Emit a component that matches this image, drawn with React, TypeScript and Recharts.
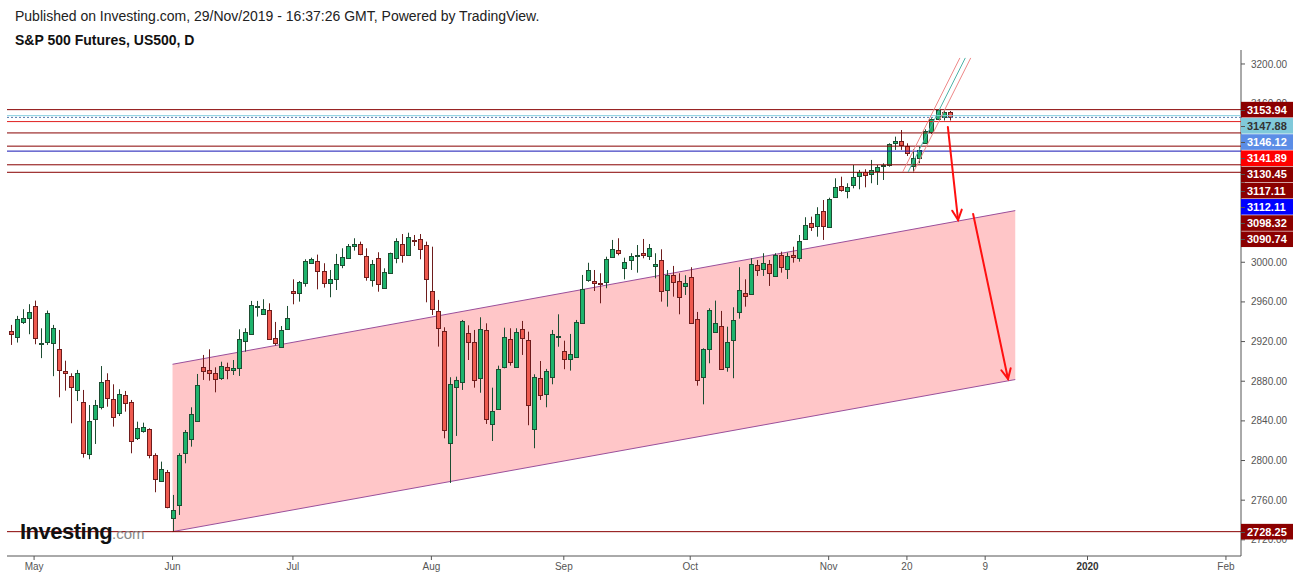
import React from 'react';
import { ComposedChart, Bar, Area, XAxis, YAxis, ReferenceLine } from 'recharts';

// daily bars, weekdays from 25 Apr 2019, axis runs out to early Feb 2020
const FIRST_DAY = '2019-04-25';
const BAR_COUNT = 205;

const OPEN = [
  2930.4, 2924.4, 2939.5, 2943.5, 2955.9, 2918.0, 2919.3, 2918.4, 2912.2, 2890.7,
  2885.3, 2871.2, 2859.1, 2806.3, 2841.6, 2853.7, 2881.3, 2861.8, 2848.3, 2865.8,
  2858.7, 2822.4, 2830.1, 2831.5, 2805.6, 2779.7, 2788.8, 2741.7, 2755.2, 2807.3,
  2821.4, 2840.2, 2894.0, 2891.4, 2888.0, 2883.0, 2894.0, 2891.4, 2893.7, 2920.9,
  2927.4, 2955.2, 2948.1, 2951.9, 2923.3, 2914.9, 2933.0, 2971.0, 2968.7, 2979.4,
  2999.6, 3001.0, 2990.9, 2978.8, 2982.8, 2997.0, 3004.3, 3016.1, 3018.4, 3006.3,
  2982.1, 3004.0, 2974.4, 2988.9, 3004.0, 3018.4, 3007.1, 3022.9, 3023.2, 3017.4,
  2971.0, 2950.5, 2930.4, 2817.4, 2874.5, 2879.6, 2928.4, 2919.6, 2883.0, 2931.7,
  2836.6, 2851.7, 2894.0, 2922.6, 2894.0, 2932.4, 2921.3, 2831.5, 2883.0, 2866.8,
  2884.0, 2925.0, 2910.5, 2902.1, 2904.1, 2938.4, 2981.7, 2980.8, 2979.3, 2980.1,
  3005.6, 3012.7, 2993.9, 3002.0, 3007.1, 3009.1, 3006.3, 2996.0, 3002.0, 2971.7,
  2986.9, 2981.1, 2976.4, 2984.8, 2942.8, 2884.0, 2912.2, 2930.0, 2935.4, 2894.0,
  2921.3, 2949.5, 2968.7, 2967.7, 2997.0, 2993.0, 2998.3, 2985.8, 3007.4, 2993.0,
  3007.4, 3004.0, 3023.2, 3039.3, 3036.6, 3052.0, 3035.9, 3065.5, 3077.2, 3071.6,
  3078.0, 3087.0, 3091.4, 3088.7, 3092.1, 3097.3, 3097.8, 3120.0, 3122.3, 3117.3,
  3097.1, 3105.0, 3120.0, 3131.4, 3144.2, 3146.3, 3151.3,
];
const HIGH = [
  2936.8, 2945.9, 2952.6, 2957.7, 2961.3, 2933.4, 2951.3, 2936.8, 2931.7, 2900.7,
  2888.0, 2891.4, 2871.2, 2856.0, 2861.1, 2895.3, 2888.0, 2876.9, 2871.9, 2870.2,
  2861.1, 2839.2, 2838.2, 2832.5, 2807.3, 2798.9, 2790.5, 2765.3, 2807.3, 2830.8,
  2853.7, 2887.3, 2906.5, 2912.2, 2894.0, 2899.7, 2898.7, 2901.4, 2932.4, 2933.4,
  2961.0, 2961.0, 2962.7, 2958.6, 2939.8, 2935.7, 2955.9, 2982.8, 2981.1, 3003.0,
  3004.6, 3007.7, 2999.0, 2992.2, 3008.4, 3014.1, 3018.4, 3024.2, 3020.8, 3014.1,
  3002.3, 3010.1, 2993.9, 3009.7, 3024.2, 3028.5, 3029.8, 3027.5, 3028.5, 3020.8,
  3015.7, 2962.0, 2934.4, 2884.0, 2884.6, 2941.8, 2936.4, 2931.7, 2944.5, 2938.4,
  2873.5, 2895.7, 2934.0, 2933.4, 2933.4, 2940.8, 2930.0, 2887.0, 2900.4, 2892.4,
  2931.7, 2947.5, 2920.9, 2927.7, 2941.8, 2987.2, 2999.5, 2992.2, 2988.9, 3005.6,
  3022.5, 3024.2, 3004.6, 3009.1, 3017.4, 3023.5, 3018.4, 3009.1, 3013.1, 2992.2,
  2996.3, 2988.9, 2986.9, 2995.0, 2949.9, 2913.2, 2953.6, 2961.3, 2950.9, 2935.0,
  2954.6, 2995.0, 2982.8, 3004.0, 3002.3, 3009.1, 3002.3, 3009.1, 3010.7, 3009.7,
  3015.7, 3027.5, 3045.4, 3046.0, 3055.5, 3062.8, 3065.1, 3084.7, 3086.3, 3079.7,
  3098.1, 3093.1, 3093.8, 3103.2, 3098.1, 3099.8, 3120.0, 3126.7, 3133.4, 3120.0,
  3114.0, 3116.6, 3134.1, 3145.2, 3154.0, 3153.6, 3152.6,
];
const LOW = [
  2916.6, 2919.0, 2937.8, 2927.4, 2917.3, 2903.3, 2916.6, 2885.1, 2863.8, 2870.5,
  2837.6, 2860.0, 2802.9, 2801.3, 2816.7, 2851.6, 2854.3, 2834.2, 2844.9, 2849.3,
  2807.3, 2820.7, 2828.1, 2802.2, 2768.0, 2778.4, 2751.8, 2728.3, 2745.1, 2797.2,
  2814.0, 2839.9, 2881.3, 2880.6, 2868.8, 2881.3, 2882.0, 2886.3, 2885.3, 2909.8,
  2927.4, 2945.2, 2948.1, 2921.6, 2916.0, 2914.9, 2931.7, 2957.6, 2960.3, 2975.4,
  2999.0, 2972.7, 2974.4, 2964.7, 2972.0, 2994.0, 3004.3, 3011.7, 3007.1, 2981.4,
  2975.4, 2970.3, 2973.8, 2988.9, 2999.0, 2999.6, 3007.1, 3016.4, 3003.0, 2959.6,
  2946.8, 2914.9, 2822.4, 2777.4, 2824.8, 2871.2, 2901.4, 2873.5, 2868.4, 2836.9,
  2819.7, 2851.7, 2893.0, 2895.7, 2894.0, 2906.5, 2835.6, 2812.4, 2861.1, 2853.7,
  2876.9, 2914.8, 2892.1, 2890.7, 2904.1, 2938.4, 2980.3, 2971.0, 2958.6, 2973.8,
  3005.0, 3007.0, 2982.8, 2992.2, 2989.5, 3004.0, 3002.3, 2983.8, 2960.3, 2955.2,
  2965.3, 2947.5, 2967.0, 2938.4, 2875.5, 2856.7, 2898.1, 2929.0, 2891.4, 2889.6,
  2883.0, 2943.1, 2955.2, 2967.7, 2986.2, 2986.2, 2976.1, 2985.5, 2989.5, 2983.1,
  2999.6, 3000.6, 3022.5, 3031.6, 3025.8, 3022.5, 3034.9, 3065.5, 3071.2, 3064.5,
  3074.6, 3073.6, 3075.6, 3079.7, 3078.0, 3083.0, 3096.4, 3113.3, 3113.3, 3107.2,
  3090.7, 3099.9, 3119.3, 3129.4, 3143.5, 3143.0, 3143.0,
];
const CLOSE = [
  2927.4, 2942.5, 2943.5, 2949.6, 2923.4, 2918.4, 2948.6, 2933.4, 2891.4, 2888.0,
  2873.9, 2888.0, 2807.3, 2839.9, 2855.7, 2878.9, 2862.8, 2844.2, 2866.8, 2857.7,
  2820.0, 2832.5, 2833.5, 2805.6, 2781.1, 2791.2, 2752.8, 2750.1, 2805.6, 2828.5,
  2846.6, 2875.9, 2890.0, 2888.0, 2882.0, 2895.3, 2891.4, 2893.4, 2922.3, 2929.4,
  2956.6, 2955.4, 2952.9, 2922.3, 2918.4, 2931.7, 2944.1, 2968.7, 2980.1, 3001.0,
  3003.0, 2990.9, 2978.8, 2982.8, 2998.3, 3005.0, 3016.4, 3018.4, 3008.1, 2985.5,
  2998.0, 2977.8, 2989.9, 3009.1, 3021.8, 3007.1, 3025.2, 3022.5, 3013.1, 2982.8,
  2952.6, 2933.4, 2830.8, 2876.9, 2881.0, 2940.8, 2919.9, 2881.0, 2932.4, 2841.6,
  2849.7, 2892.1, 2924.3, 2899.1, 2930.0, 2923.3, 2855.7, 2884.0, 2865.8, 2890.4,
  2927.4, 2925.2, 2902.8, 2907.1, 2939.8, 2972.7, 2991.8, 2978.8, 2978.5, 3003.0,
  3013.7, 3009.0, 2999.9, 3006.3, 3007.4, 3007.1, 3014.1, 2998.3, 2971.0, 2986.9,
  2980.4, 2964.7, 2978.8, 2938.4, 2881.0, 2912.5, 2951.9, 2938.4, 2892.7, 2919.6,
  2941.8, 2971.7, 2965.7, 2998.3, 2992.0, 2999.0, 2988.9, 3007.4, 2995.0, 3006.3,
  3005.0, 3021.5, 3037.1, 3035.9, 3048.4, 3036.6, 3063.5, 3076.2, 3072.9, 3075.6,
  3086.3, 3090.8, 3088.0, 3093.1, 3095.8, 3097.6, 3119.3, 3122.3, 3118.3, 3109.9,
  3104.9, 3113.3, 3132.7, 3144.2, 3153.5, 3151.3, 3146.1,
];

const X_TICK_DATES = ['2019-05-01', '2019-06-03', '2019-07-01', '2019-08-01', '2019-09-02', '2019-10-01', '2019-11-01', '2019-11-20', '2019-12-09', '2020-01-01', '2020-02-03'];
const X_TICK_LABELS = ['May', 'Jun', 'Jul', 'Aug', 'Sep', 'Oct', 'Nov', '20', '9', '2020', 'Feb'];
const Y_TICKS = [2720, 2760, 2800, 2840, 2880, 2920, 2960, 3000, 3040, 3080, 3120, 3160, 3200];
// these tick labels sit fully under the price tags
const Y_TICKS_COVERED = [3040, 3080, 3120];
const Y_MIN = 2703.7;
const Y_MAX = 3214.1;

// horizontal levels, top to bottom
const LEVELS = [3153.94, 3147.88, 3146.12, 3141.89, 3130.45, 3117.11, 3112.11, 3098.32, 3090.74, 2728.25];
const LEVEL_LINE = ['#880000', '#86cfe0', '#5577aa', '#e02020', '#880000', '#880000', '#1414b4', '#880000', '#880000', '#880000'];
const LEVEL_TAG = ['#8b0000', '#80c9da', '#5b8de6', '#ff0000', '#8b0000', '#8b0000', '#0000ff', '#8b0000', '#8b0000', '#8b0000'];
const LEVEL_TEXT = ['#fff', '#333', '#fff', '#fff', '#fff', '#fff', '#fff', '#fff', '#fff', '#fff'];

// pink channel (start / end)
const CHANNEL_DATES = ['2019-06-03', '2019-12-16'];
const CHANNEL_TOP = [2897.1, 3052.1];
const CHANNEL_BOTTOM = [2728.3, 2881.7];

// red arrows, x in bar index
const ARROW_X = [[155.8, 157.5], [160.0, 165.8]];
const ARROW_Y = [[3136.5, 3042.6], [3048.7, 2882.3]];

// thin fan lines over the last leg
const FAN_X = [[148.3, 157.8], [149.2, 158.7], [150.1, 159.6]];
const FAN_Y = [[3091.1, 3206.1], [3091.1, 3206.1], [3091.1, 3206.1]];
const FAN_COLOR = ['#ee8888', '#4fb3a8', '#ee8888'];

const W = 1299;
const H = 580;
const M_TOP = 50;
const M_LEFT = 7;
const X_AX_H = 24;
const Y_AX_W = 58;
const TAG_H = 16.2;
const FONT = 'Liberation Sans, Arial, sans-serif';

const dates: string[] = [];
const cur = new Date(FIRST_DAY + 'T00:00:00Z');
while (dates.length < BAR_COUNT) {
  const wd = cur.getUTCDay();
  if (wd !== 0 && wd !== 6) dates.push(cur.toISOString().slice(0, 10));
  cur.setUTCDate(cur.getUTCDate() + 1);
}

const rows = dates.map((date, i) => {
  const ci = CHANNEL_DATES.indexOf(date);
  return {
    i,
    date,
    o: OPEN[i],
    h: HIGH[i],
    l: LOW[i],
    c: CLOSE[i],
    chan: ci >= 0 ? [CHANNEL_BOTTOM[ci], CHANNEL_TOP[ci]] : undefined,
  };
});

const xTicks = X_TICK_DATES.map((d) => dates.indexOf(d));

// price tags get pushed down so they don't overlap
const pxPerPt = (H - M_TOP - X_AX_H) / (Y_MAX - Y_MIN);
const tagShift: number[] = [];
let prevCenter = -Infinity;
LEVELS.forEach((v, k) => {
  const own = (Y_MAX - v) * pxPerPt;
  const center = Math.max(own, prevCenter + TAG_H);
  tagShift[k] = center - own;
  prevCenter = center;
});

const Candle = (props: any) => {
  const { x, y, width, height, payload } = props;
  if (!payload || payload.o === undefined || !height) return null;
  const { o, h, l, c } = payload;
  const k = height / (h - l);
  const yv = (v: number) => y + (h - v) * k;
  const up = c >= o;
  const px = Math.round(x + width / 2);
  const top = Math.round(yv(Math.max(o, c)));
  const bot = Math.max(Math.round(yv(Math.min(o, c))), top + 1);
  const edge = up ? '#1d4d32' : '#6e1c1c';
  return (
    <g>
      <line x1={px + 0.5} x2={px + 0.5} y1={yv(h)} y2={yv(l)} stroke={edge} strokeWidth={1} />
      <rect x={px - 1.5} y={top + 0.5} width={4} height={bot - top} fill={up ? '#1eb36c' : '#ee5a4f'} stroke={edge} strokeWidth={1} />
    </g>
  );
};

const PriceTag = (props: any) => {
  const { viewBox, idx } = props;
  if (!viewBox) return null;
  const right = viewBox.x + viewBox.width;
  const cy = viewBox.y + tagShift[idx];
  return (
    <g>
      <rect x={right} y={cy - 7.8} width={52} height={15.6} fill={LEVEL_TAG[idx]} />
      <line x1={right} x2={right + 4} y1={Math.round(cy) + 0.5} y2={Math.round(cy) + 0.5} stroke="#555" />
      <text x={right + 6} y={cy + 4} fontSize={11} fontWeight="bold" fill={LEVEL_TEXT[idx]} fontFamily={FONT}>
        {LEVELS[idx].toFixed(2)}
      </text>
    </g>
  );
};

const Arrow = (props: any) => {
  const { x1, y1, x2, y2 } = props;
  if (x1 === undefined) return null;
  const a = Math.atan2(y2 - y1, x2 - x1);
  const len = 11;
  const w1x = x2 - len * Math.cos(a - 0.45);
  const w1y = y2 - len * Math.sin(a - 0.45);
  const w2x = x2 - len * Math.cos(a + 0.45);
  const w2y = y2 - len * Math.sin(a + 0.45);
  return (
    <g stroke="#ff1010" strokeWidth={2} fill="none" strokeLinecap="round">
      <line x1={x1} y1={y1} x2={x2} y2={y2} />
      <polyline points={`${w1x},${w1y} ${x2},${y2} ${w2x},${w2y}`} />
    </g>
  );
};

const XTick = (props: any) => {
  const { x, y, payload } = props;
  const label = X_TICK_LABELS[xTicks.indexOf(payload.value)];
  const bold = label === '2020';
  return (
    <text x={x} y={y + 8} textAnchor="middle" fontSize={10} fill={bold ? '#333' : '#555'} fontWeight={bold ? 'bold' : 'normal'} fontFamily={FONT}>
      {label}
    </text>
  );
};

export default function App() {
  return (
    <div style={{ position: 'absolute', left: 0, top: 0, width: W, height: H, background: '#fff', fontFamily: FONT }}>
      <div style={{ position: 'absolute', left: 15, top: 8, fontSize: 14, color: '#222', whiteSpace: 'nowrap' }}>
        Published on Investing.com, 29/Nov/2019 - 16:37:26 GMT, Powered by TradingView.
      </div>
      <div style={{ position: 'absolute', left: 15, top: 32, fontSize: 14, fontWeight: 'bold', color: '#111', whiteSpace: 'nowrap' }}>
        S&amp;P 500 Futures, US500, D
      </div>

      {/* series layer */}
      <div style={{ position: 'absolute', left: 0, top: 0 }}>
        <ComposedChart width={W} height={H} data={rows} margin={{ top: M_TOP, right: 0, bottom: 0, left: M_LEFT }}>
          <XAxis
            dataKey="i"
            type="number"
            domain={[-0.5, BAR_COUNT - 0.5]}
            ticks={xTicks}
            interval={0}
            allowDataOverflow
            height={X_AX_H}
            tickSize={4}
            stroke="#555"
            tick={<XTick />}
          />
          <YAxis
            orientation="right"
            type="number"
            domain={[Y_MIN, Y_MAX]}
            ticks={Y_TICKS}
            allowDataOverflow
            width={Y_AX_W}
            tickSize={4}
            tickMargin={6}
            stroke="#555"
            tick={{ fontSize: 10, fill: '#555' }}
            tickFormatter={(v: number) => (Y_TICKS_COVERED.includes(v) ? '' : v.toFixed(2))}
          />
          <Area
            dataKey="chan"
            connectNulls
            stroke="#9b4f9b"
            strokeWidth={1}
            fill="#ffc6c8"
            fillOpacity={1}
            dot={false}
            activeDot={false}
            isAnimationActive={false}
          />
          <Bar dataKey={(r: any) => (r.o === undefined ? null : [r.l, r.h])} barSize={5} shape={<Candle />} isAnimationActive={false} />
        </ComposedChart>
      </div>

      {/* drawings layer: levels, tags, fan, arrows on top of everything */}
      <div style={{ position: 'absolute', left: 0, top: 0 }}>
        <ComposedChart width={W} height={H} data={rows} margin={{ top: M_TOP, right: Y_AX_W, bottom: X_AX_H, left: M_LEFT }}>
          <XAxis dataKey="i" type="number" domain={[-0.5, BAR_COUNT - 0.5]} allowDataOverflow hide />
          <YAxis type="number" domain={[Y_MIN, Y_MAX]} allowDataOverflow hide />
          {LEVELS.map((v, k) => (
            <ReferenceLine
              key={v}
              y={v}
              stroke={LEVEL_LINE[k]}
              strokeWidth={1}
              strokeDasharray={k === 2 ? '2 2' : undefined}
              label={<PriceTag idx={k} />}
            />
          ))}
          {FAN_X.map((fx, k) => (
            <ReferenceLine
              key={'fan' + k}
              segment={[{ x: fx[0], y: FAN_Y[k][0] }, { x: fx[1], y: FAN_Y[k][1] }]}
              stroke={FAN_COLOR[k]}
              strokeWidth={1}
            />
          ))}
          {ARROW_X.map((ax, k) => (
            <ReferenceLine
              key={'arrow' + k}
              segment={[{ x: ax[0], y: ARROW_Y[k][0] }, { x: ax[1], y: ARROW_Y[k][1] }]}
              shape={(p: any) => <Arrow {...p} />}
            />
          ))}
        </ComposedChart>
      </div>

      <div style={{ position: 'absolute', left: 20, top: 519, fontSize: 22, fontWeight: 'bold', color: '#111', letterSpacing: -0.5 }}>
        Investing<span style={{ fontSize: 15, fontWeight: 'normal', color: '#888', letterSpacing: 0 }}>.com</span>
      </div>
    </div>
  );
}
